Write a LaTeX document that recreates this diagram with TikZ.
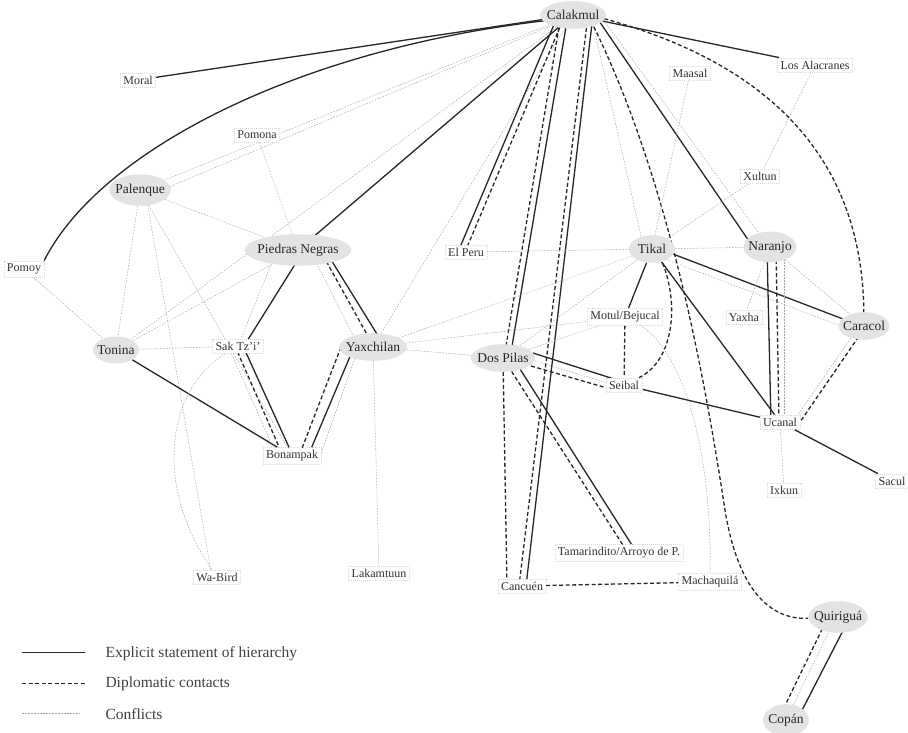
\documentclass[tikz,border=0pt]{standalone}
\usepackage{fontspec}
\setmainfont{Liberation Serif}
\usetikzlibrary{calc, backgrounds, shapes.geometric}

\begin{document}
\begin{tikzpicture}[x=1pt, y=-1pt,
  site/.style={fill=white, draw=gray!30, line width=0.4pt, dash pattern=on 1pt off 1pt,
    inner xsep=3pt, inner ysep=3pt, text=black!80, font=\fontsize{12}{13}\selectfont},
  bigsite/.style={ellipse, fill=gray!22, inner xsep=-3pt, inner ysep=5pt, minimum width=46pt,
    text=black!85, font=\fontsize{13.5}{15}\selectfont},
  hier/.style={black!85, line width=1.3pt},
  dipl/.style={black!85, line width=1.3pt, dash pattern=on 4pt off 2.5pt},
  confl/.style={gray!70, line width=0.5pt, dash pattern=on 1.5pt off 1.5pt},
  legtext/.style={anchor=west, text=black!75, font=\fontsize{15.5}{17}\selectfont}]

  \useasboundingbox (0,0) rectangle (908,732);

  % 1. Sites
  \node[bigsite] (cal) at (573,15) {Calakmul};
  \node[site] (moral) at (138,80) {Moral};
  \node[site] (pomona) at (257,135) {Pomona};
  \node[site] (maasal) at (690,73) {Maasal};
  \node[site] (alac) at (815,65) {Los Alacranes};
  \node[site] (xultun) at (760,176) {Xultun};
  \node[bigsite] (pal) at (140,190) {Palenque};
  \node[bigsite] (pn) at (298,250) {Piedras Negras};
  \node[site] (elperu) at (466,252) {El Peru};
  \node[bigsite] (tikal) at (652,249) {Tikal};
  \node[bigsite] (naranjo) at (770,247) {Naranjo};
  \node[site] (pomoy) at (24,269) {Pomoy};
  \node[bigsite] (tonina) at (116,350) {Tonina};
  \node[site] (sak) at (238,346) {Sak Tz'i'};
  \node[bigsite] (yax) at (373,347) {Yaxchilan};
  \node[site] (motul) at (625,317) {Motul/Bejucal};
  \node[site] (yaxha) at (744,317) {Yaxha};
  \node[bigsite] (caracol) at (864,326) {Caracol};
  \node[bigsite] (dospilas) at (503,358) {Dos Pilas};
  \node[site] (seibal) at (624,385) {Seibal};
  \node[site] (ucanal) at (780,422) {Ucanal};
  \node[site] (bon) at (292,456) {Bonampak};
  \node[site] (ixkun) at (784,490) {Ixkun};
  \node[site] (sacul) at (892,481) {Sacul};
  \node[site] (tam) at (619,553) {Tamarindito/Arroyo de P.};
  \node[site] (wabird) at (217,577) {Wa-Bird};
  \node[site] (lakam) at (379,573) {Lakamtuun};
  \node[site] (cancuen) at (522,586) {Cancuén};
  \node[site] (machaq) at (710,582) {Machaquilá};
  \node[bigsite] (quirigua) at (838,617) {Quiriguá};
  \node[bigsite] (copan) at (786,720) {Copán};

  \begin{pgfonlayer}{background}
  % 2. Calakmul
  \draw[hier] (cal) -- (moral);
  \draw[hier] ($(cal)+(-22,5)$) .. controls (300,48) and (100,150) .. (pomoy.north east);
  \draw[hier] (cal) -- (alac);
  \draw[hier] (cal) -- (pn);
  \draw[confl] (cal) -- (pal);
  \draw[confl] ($(cal)+(-20,10)$) -- ($(pal)+(10,5)$);
  \draw[confl] (cal) -- (tonina);
  \draw[confl] (cal) -- (yax);
  \draw[hier] ($(cal)+(-15,0)$) -- ($(elperu)+(-8,0)$);
  \draw[dipl] ($(cal)+(-8,0)$) -- ($(elperu)+(-1,0)$);
  \draw[dipl] ($(cal)+(-12,0)$) -- ($(dospilas)+(1,0)$);
  \draw[hier] ($(cal)+(-5,0)$) -- ($(dospilas)+(7,0)$);
  \draw[dipl] ($(cal)+(15,0)$) -- ($(cancuen)+(-3,0)$);
  \draw[hier] ($(cal)+(20,0)$) -- ($(cancuen)+(4,0)$);
  \draw[confl] ($(cal)+(18,0)$) -- ($(tikal)+(-8,0)$);
  \draw[hier] ($(cal)+(22,0)$) -- ($(naranjo)+(-17,0)$);
  \draw[confl] ($(cal)+(27,0)$) -- ($(naranjo)+(-1,0)$);
  \draw[dipl] ($(cal)+(18,6)$) .. controls (670,180) and (705,380) .. (725,510)
    .. controls (738,590) and (770,620) .. (quirigua);
  \draw[dipl] ($(cal)+(25,2)$) .. controls (760,60) and (862,150) .. (caracol);

  % 3. Usumacinta
  \draw[confl] (pal) -- (pn);
  \draw[confl] (pal) -- (tonina);
  \draw[confl] ($(pal)+(5,0)$) -- ($(wabird)+(-5,0)$);
  \draw[confl] (pal) -- (bon);
  \draw[confl] (pomona) -- (pn);
  \draw[confl] (pomoy) -- (tonina);
  \draw[confl] (tonina) -- (pn);
  \draw[confl] (tonina) -- (sak);
  \draw[hier] (tonina) -- (bon);
  \draw[confl] ($(sak)+(-10,6)$) .. controls (170,385) and (150,480) .. (wabird);
  \draw[hier] ($(pn)+(6,0)$) -- ($(sak)+(6,0)$);
  \draw[confl] ($(pn)+(-21,0)$) -- (sak);
  \draw[confl] ($(pn)+(12,0)$) -- ($(yax)+(-14,0)$);
  \draw[dipl] ($(pn)+(22,0)$) -- ($(yax)+(1,0)$);
  \draw[hier] ($(pn)+(27,0)$) -- ($(yax)+(12,0)$);
  \draw[confl] ($(sak)+(-10,0)$) -- ($(bon)+(-15,0)$);
  \draw[dipl] ($(sak)+(-3,0)$) -- ($(bon)+(-9,0)$);
  \draw[hier] ($(sak)+(5,0)$) -- ($(bon)+(1,0)$);
  \draw[dipl] ($(yax)+(-32,0)$) -- ($(bon)+(7,0)$);
  \draw[hier] ($(yax)+(-19,0)$) -- ($(bon)+(16,0)$);
  \draw[confl] ($(yax)+(-14,0)$) -- ($(bon)+(28,0)$);
  \draw[confl] (yax) -- (lakam);
  \draw[confl] (yax) -- (dospilas);
  \draw[confl] (yax) -- (tikal);
  \draw[confl] (yax) -- (motul);

  % 4. Peten
  \draw[confl] (elperu) -- (tikal);
  \draw[confl] (tikal) -- (naranjo);
  \draw[confl] (tikal) -- (maasal);
  \draw[confl] (tikal) -- (xultun);
  \draw[confl] (xultun) -- (alac);
  \draw[hier] (tikal) -- (motul);
  \draw[dipl] ($(tikal)+(8,8)$) .. controls (680,300) and (675,360) .. (seibal);
  \draw[hier] (tikal) -- (ucanal);
  \draw[hier] ($(tikal)+(0,-3)$) -- ($(caracol)+(0,1)$);
  \draw[confl] ($(tikal)+(0,5)$) -- ($(caracol)+(0,9)$);
  \draw[confl] (tikal) -- (dospilas);
  \draw[confl] (dospilas) -- (motul);
  \draw[hier] ($(dospilas)+(30,-5)$) -- ($(seibal)+(-10,-6)$);
  \draw[confl] ($(dospilas)+(29,2)$) -- ($(seibal)+(-10,0)$);
  \draw[dipl] ($(dospilas)+(28,8)$) -- ($(seibal)+(-10,5)$);
  \draw[dipl] (motul) -- (seibal);
  \draw[confl] ($(motul)+(15,8)$) .. controls (680,350) and (712,440) .. (machaq);
  \draw[hier] (seibal) -- (ucanal);
  \draw[hier] ($(dospilas)+(10,0)$) -- ($(tam)+(18,0)$);
  \draw[dipl] (dospilas) -- ($(tam)+(9,0)$);
  \draw[dipl] (dospilas) -- ($(cancuen)+(-15,0)$);
  \draw[dipl] (cancuen) -- (machaq);

  % 5. East
  \draw[hier] ($(naranjo)+(-3,0)$) -- ($(ucanal)+(-9,0)$);
  \draw[dipl] ($(naranjo)+(6,0)$) -- ($(ucanal)+(-1,0)$);
  \draw[confl] ($(naranjo)+(14,0)$) -- ($(ucanal)+(4,0)$);
  \draw[confl] (naranjo) -- (yaxha);
  \draw[confl] (naranjo) -- (caracol);
  \draw[confl] ($(caracol)+(-5,0)$) -- ($(ucanal)+(13,0)$);
  \draw[dipl] ($(caracol)+(2,0)$) -- ($(ucanal)+(20,0)$);
  \draw[confl] (ucanal) -- (ixkun);
  \draw[hier] (ucanal) -- (sacul);
  \draw[dipl] ($(quirigua)+(-10,0)$) -- ($(copan)+(-8,0)$);
  \draw[confl] ($(quirigua)+(-2,0)$) -- (copan);
  \draw[hier] ($(quirigua)+(12,0)$) -- ($(copan)+(11,0)$);
  \end{pgfonlayer}

  % 6. Legend
  \coordinate (h1) at (22,652); \coordinate (h2) at (85,652);
  \coordinate (d1) at (22,683); \coordinate (d2) at (85,683);
  \coordinate (c1) at (22,713); \coordinate (c2) at (80,713);
  \draw[hier, line width=0.9pt] (h1) -- (h2);
  \draw[dipl, line width=0.9pt] (d1) -- (d2);
  \draw[confl] (c1) -- (c2);
  \node[legtext] (lh) at (102,654) {Explicit statement of hierarchy};
  \node[legtext] (ld) at (102,684) {Diplomatic contacts};
  \node[legtext] (lc) at (102,714) {Conflicts};
\end{tikzpicture}
\end{document}
